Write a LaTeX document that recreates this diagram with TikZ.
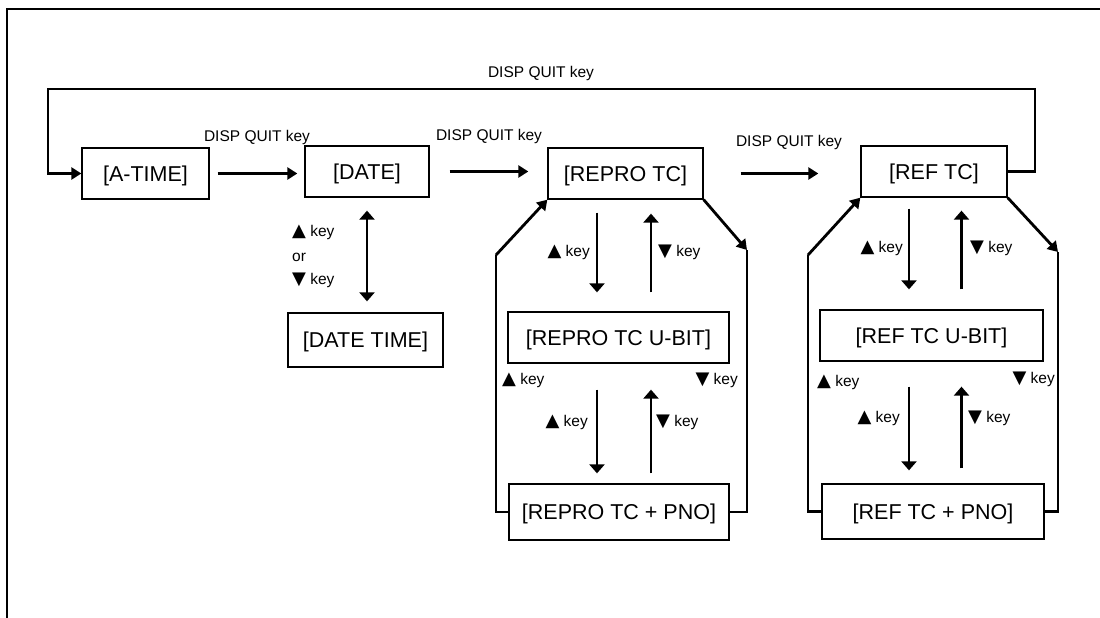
\documentclass[tikz,border=0pt]{standalone}
\usepackage{fontspec}
\setmainfont{Liberation Sans}
\newfontfamily\symfont{DejaVu Sans}
\usetikzlibrary{arrows.meta,calc}
\newcommand\triup{\raisebox{-0.5pt}{\symfont\fontsize{18}{18}\selectfont ▲}}
\newcommand\tridn{\raisebox{-0.5pt}{\symfont\fontsize{18}{18}\selectfont ▼}}
\begin{document}
\begin{tikzpicture}[x=1pt,y=-1pt,
  box/.style={draw,line width=1.3pt,inner sep=0pt,text height=15pt,text depth=0pt,font=\fontsize{21.5}{25}\selectfont},
  lbl/.style={inner sep=0pt,font=\fontsize{15.5}{18}\selectfont},
  conn/.style={line width=2.8pt},
  arr/.style={conn,-{Triangle[length=10pt,width=12pt]}},
  varr/.style={line width=2.4pt,-{Triangle[length=9pt,width=15pt]}},
  dvarr/.style={line width=2.8pt,{Triangle[length=9pt,width=15pt]}-{Triangle[length=9pt,width=15pt]}}
]
\useasboundingbox (0,0) rectangle (1100,618);
% frame
\draw[line width=1.3pt] (7,618) -- (7,9) -- (1100,9);

% boxes
\node[box,minimum width=127pt,minimum height=51pt] (atime) at (145.5,173.5) {[A-TIME]};
\node[box,minimum width=124pt,minimum height=51pt] (date) at (367,171.5) {[DATE]};
\node[box,minimum width=155pt,minimum height=51pt] (rtc) at (625.5,173.5) {[REPRO TC]};
\node[box,minimum width=146pt,minimum height=51pt] (ftc) at (934,171.5) {[REF TC]};
\node[box,minimum width=155pt,minimum height=54pt] (dtime) at (365.5,340) {[DATE TIME]};
\node[box,minimum width=221pt,minimum height=51pt] (rub) at (618.5,337.5) {[REPRO TC U-BIT]};
\node[box,minimum width=223pt,minimum height=51pt] (fub) at (931.5,335.5) {[REF TC U-BIT]};
\node[box,minimum width=220pt,minimum height=56pt] (rpno) at (619,512) {[REPRO TC + PNO]};
\node[box,minimum width=222pt,minimum height=55pt] (fpno) at (933,511.5) {[REF TC + PNO]};

% top labels
\node[lbl] (l0) at (541,73) {DISP QUIT key};
\node[lbl] (l1) at (257,137) {DISP QUIT key};
\node[lbl] (l2) at (489,136) {DISP QUIT key};
\node[lbl] (l3) at (789,142) {DISP QUIT key};

% horizontal arrows
\draw[arr,shorten <=8pt,shorten >=7pt] (atime.east) -- (atime.east -| date.west);
\draw[arr,shorten <=20pt,shorten >=19pt] (date.east) -- (date.east -| rtc.west);
\draw[arr,shorten <=37pt,shorten >=42pt] (rtc.east) -- (rtc.east -| ftc.west);

% return loop
\coordinate (tl) at (48,89);
\coordinate (tr) at (1035,89);
\draw[arr] (ftc.east) -| (tr) -- (tl) |- (atime.west);

% date <-> date time
\path ($(date.south)+(0,0)$) coordinate (dd);
\draw[dvarr,shorten <=13pt,shorten >=11pt] (dd) -- (dd |- dtime.north);
\node[lbl,anchor=west] (dk1) at (292,232) {\triup\ key};
\node[lbl,anchor=west] (dk2) at (292,257) {or};
\node[lbl,anchor=west] (dk3) at (292,280) {\tridn\ key};

% REPRO column
\path ($(rtc.south)+(-28.5,0)$) coordinate (rd1);
\path ($(rtc.south)+(25.5,0)$) coordinate (ru1);
\draw[varr,shorten <=13pt,shorten >=19pt] (rd1) -- (rd1 |- rub.north);
\draw[varr,shorten <=19pt,shorten >=14pt] (ru1 |- rub.north) -- (ru1);
\draw[varr,shorten <=26pt,shorten >=10pt] (rd1 |- rub.south) -- (rd1 |- rpno.north);
\draw[varr,shorten <=10pt,shorten >=26pt] (ru1 |- rpno.north) -- (ru1 |- rub.south);
\node[lbl,anchor=east] (ra1) at (590,252) {\triup\ key};
\node[lbl,anchor=west] (rb1) at (658,252) {\tridn\ key};
\node[lbl,anchor=east] (ra2) at (588,422) {\triup\ key};
\node[lbl,anchor=west] (rb2) at (656,422) {\tridn\ key};
\node[lbl,anchor=west] (ra3) at (502,380) {\triup\ key};
\node[lbl,anchor=east] (rb3) at (738,380) {\tridn\ key};
\coordinate (rl) at (496,255);
\coordinate (rr) at (747,250);
\draw[conn] (rpno.west) -| (rl);
\draw[arr] (rl) -- (rtc.south west);
\draw[arr] (rtc.south east) -- (rr);
\draw[conn] (rr) |- (rpno.east);

% REF column
\path ($(ftc.south)+(-25,0)$) coordinate (fd1);
\path ($(ftc.south)+(27.5,0)$) coordinate (fu1);
\draw[varr,shorten <=11pt,shorten >=20pt] (fd1) -- (fd1 |- fub.north);
\draw[varr,shorten <=20pt,shorten >=13pt] (fu1 |- fub.north) -- (fu1);
\draw[varr,shorten <=25pt,shorten >=13pt] (fd1 |- fub.south) -- (fd1 |- fpno.north);
\draw[varr,shorten <=15pt,shorten >=25pt] (fu1 |- fpno.north) -- (fu1 |- fub.south);
\node[lbl,anchor=east] (fa1) at (903,248) {\triup\ key};
\node[lbl,anchor=west] (fb1) at (970,248) {\tridn\ key};
\node[lbl,anchor=east] (fa2) at (900,418) {\triup\ key};
\node[lbl,anchor=west] (fb2) at (968,418) {\tridn\ key};
\node[lbl,anchor=west] (fa3) at (817,382) {\triup\ key};
\node[lbl,anchor=east] (fb3) at (1055,379) {\tridn\ key};
\coordinate (fl) at (808,255);
\coordinate (fr) at (1058,252);
\draw[conn] (fpno.west) -| (fl);
\draw[arr] (fl) -- (ftc.south west);
\draw[arr] (ftc.south east) -- (fr);
\draw[conn] (fr) |- (fpno.east);
\end{tikzpicture}
\end{document}
